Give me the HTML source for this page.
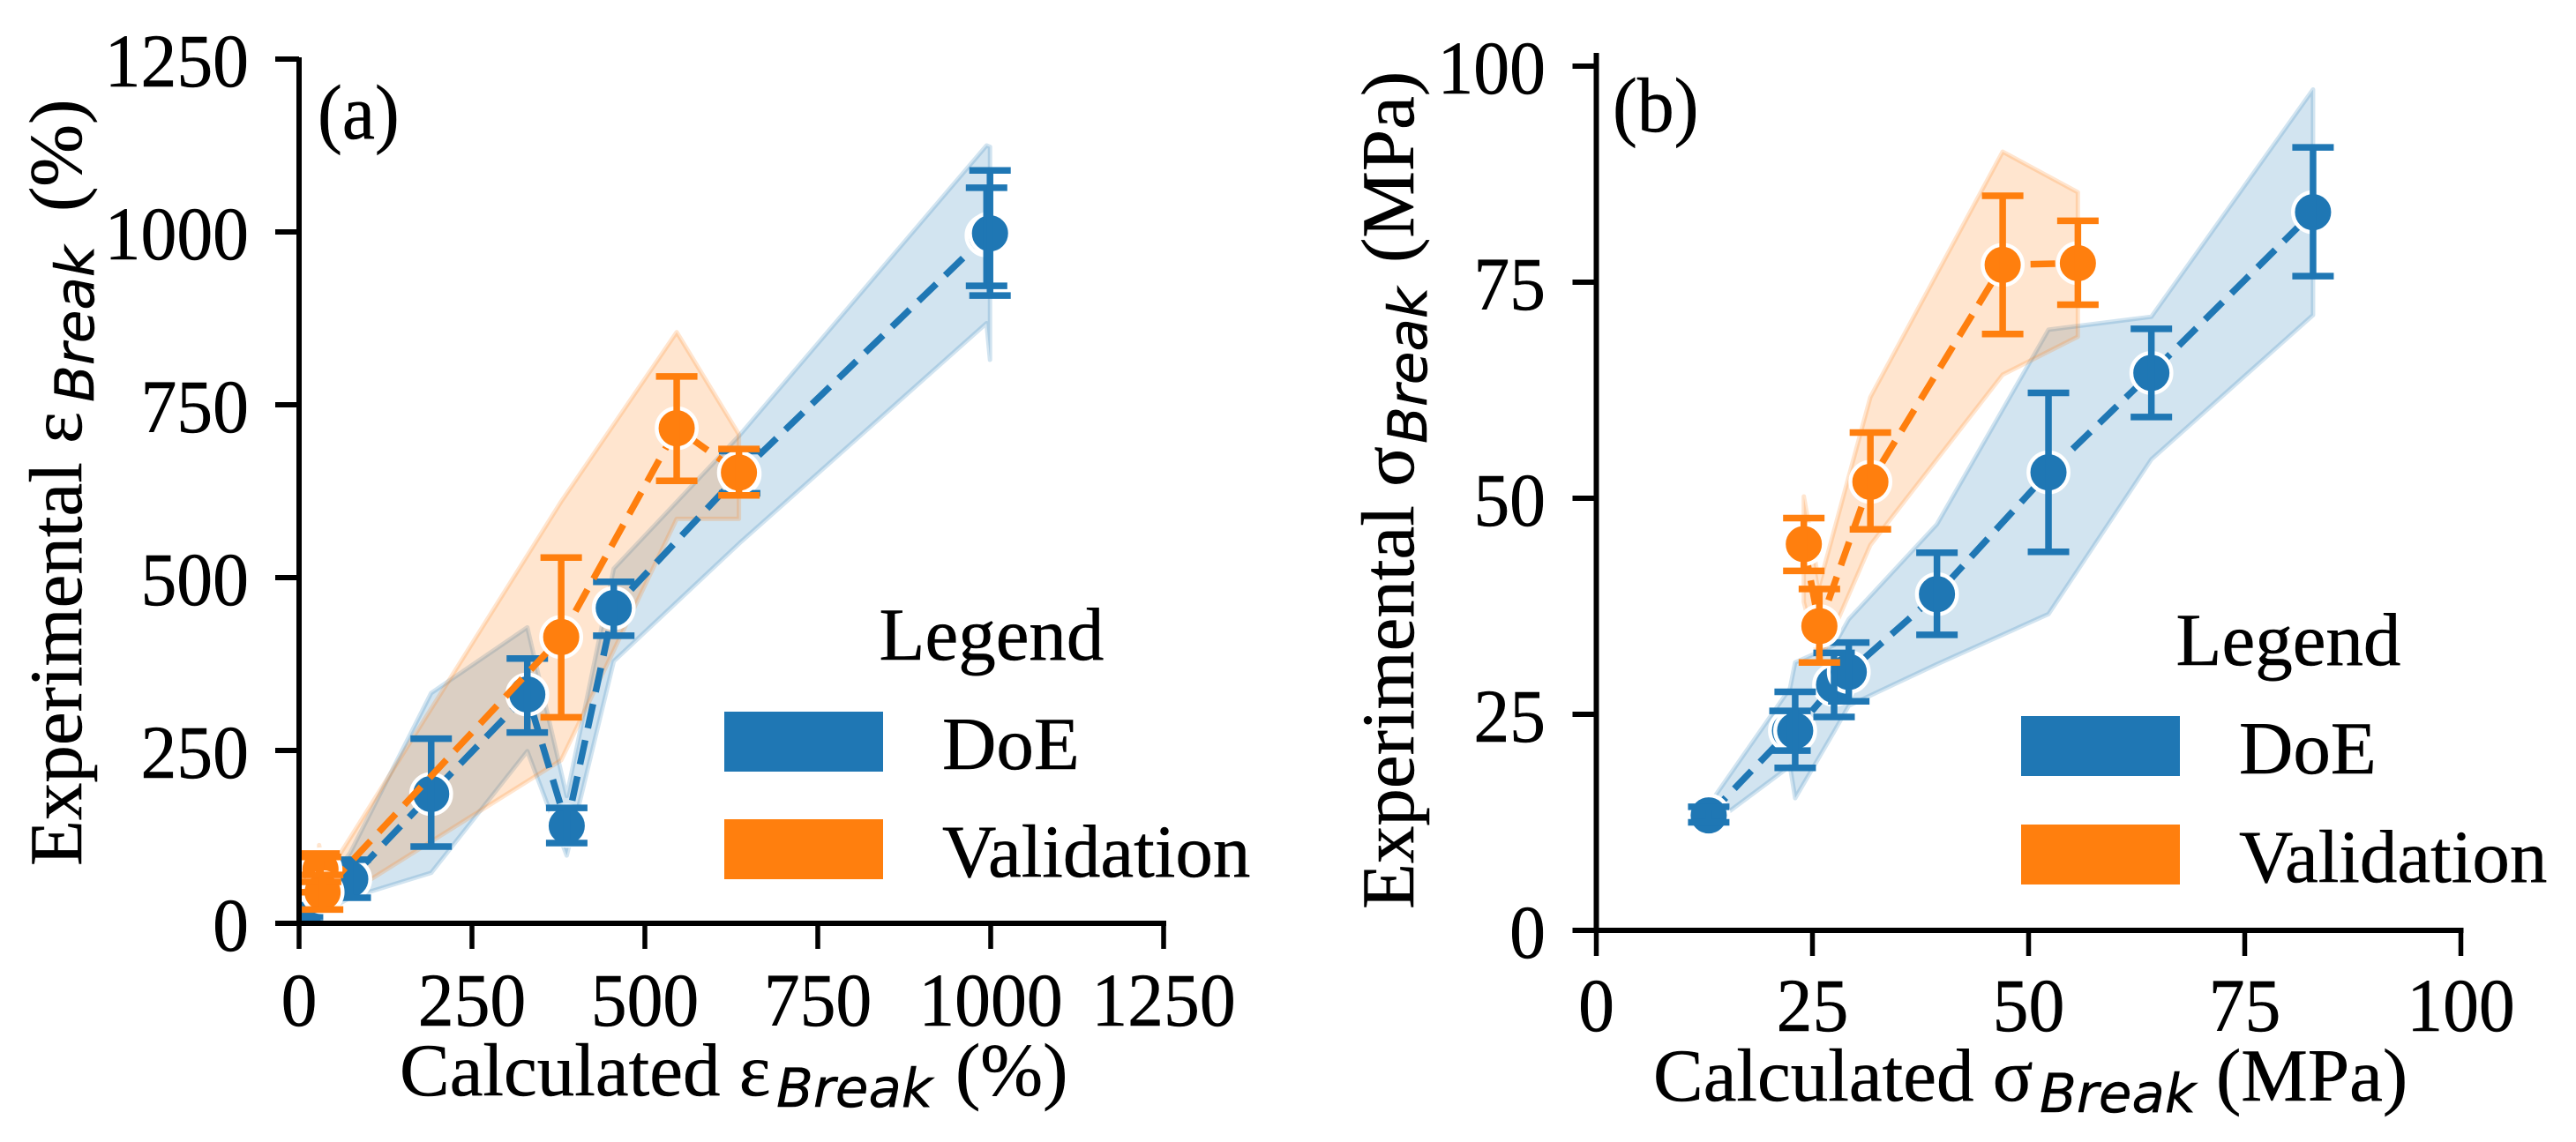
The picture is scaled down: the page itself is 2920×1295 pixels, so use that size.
<!DOCTYPE html>
<html lang="en">
<head>
<meta charset="utf-8">
<title>Calculated vs experimental break properties</title>
<style>
html,body{margin:0;padding:0;background:#fff;}
svg{display:block;}
text{font-family:"Liberation Serif",serif;fill:#000;stroke:#000;stroke-width:.5px;}
.sub{font-family:"DejaVu Sans",sans-serif;font-style:italic;}
</style>
</head>
<body>
<svg id="figure" xmlns="http://www.w3.org/2000/svg" width="2920" height="1295" viewBox="0 0 2920 1295">
  <rect width="2920" height="1295" fill="#fff"/>
  <defs>
    <clipPath id="clip-a"><rect x="339" y="60" width="980" height="987"/></clipPath>
    <clipPath id="clip-b"><rect x="1809" y="60" width="980" height="995"/></clipPath>
  </defs>
  <g id="panel-a"></g>
  <g id="panel-b"></g>

  <text transform="translate(360,157) scale(.95,1)" font-size="88">(a)</text>
  <text transform="translate(1828,149) scale(.95,1)" font-size="88">(b)</text>

  <text y="1242" font-size="85"><tspan x="453">Calculated ε</tspan><tspan class="sub" x="880" y="1255" font-size="61">Break</tspan><tspan x="1083" y="1242">(%)</tspan></text>
  <text transform="translate(92,982) rotate(-90)" y="0" font-size="85"><tspan x="0">Experimental ε</tspan><tspan class="sub" x="526" y="14" font-size="61">Break</tspan><tspan x="742" y="0">(%)</tspan></text>
  <text y="1248" font-size="85"><tspan x="1874">Calculated σ</tspan><tspan class="sub" x="2312" y="1261" font-size="61">Break</tspan><tspan x="2512" y="1248">(MPa)</tspan></text>
  <text transform="translate(1602,1031) rotate(-90)" y="0" font-size="85"><tspan x="0">Experimental σ</tspan><tspan class="sub" x="528" y="15" font-size="61">Break</tspan><tspan x="733" y="0">(MPa)</tspan></text>

  <g>
    <text x="1124" y="748" font-size="85" text-anchor="middle">Legend</text>
    <rect x="821" y="807" width="180" height="68" fill="#1f77b4"/>
    <text x="1068" y="872" font-size="85">DoE</text>
    <rect x="821" y="929" width="180" height="68" fill="#ff7f0e"/>
    <text x="1068" y="994" font-size="85">Validation</text>
  </g>
  <g>
    <text x="2594" y="754" font-size="85" text-anchor="middle">Legend</text>
    <rect x="2291" y="812" width="180" height="68" fill="#1f77b4"/>
    <text x="2538" y="877" font-size="85">DoE</text>
    <rect x="2291" y="935" width="180" height="68" fill="#ff7f0e"/>
    <text x="2538" y="1000" font-size="85">Validation</text>
  </g>
</svg>
<script>
// Panel (a): elongation at break, %
const aTicks = [0, 250, 500, 750, 1000, 1250];
const aDoeX = [5, 74, 191, 330, 387, 455, 637, 994, 999];
const aDoeY = [5, 64, 187, 331, 141, 456, 650, 995, 998];
const aDoeHi = [10, 92, 267, 383, 167, 494, 683, 1064, 1089];
const aDoeLo = [0, 37, 111, 276, 116, 416, 622, 922, 908];
const aDoeBandUp = [8, 102, 333, 428, 184, 513, 706, 1125, 1123];
const aDoeBandLow = [0, 37, 73, 249, 98, 379, 550, 868, 815];
const aValX = [29, 31, 34, 379, 546, 636];
const aValY = [70, 78, 45, 414, 716, 652];
const aValHi = [101, 96, 70, 529, 791, 686];
const aValLo = [45, 60, 20, 298, 640, 619];
const aValBandUp = [113, 100, 60, 610, 855, 707];
const aValBandLow = [30, 40, 20, 236, 585, 585];

// Panel (b): stress at break, MPa
const bTicks = [0, 25, 50, 75, 100];
const bDoeX = [13, 22.4, 23, 27.5, 29.2, 39.4, 52.3, 64.2, 82.9];
const bDoeY = [13.3, 23.1, 23.1, 28.4, 29.9, 38.9, 53, 64.5, 83.1];
const bDoeHi = [14.3, 25.4, 27.6, 32.1, 33.3, 43.7, 62.2, 69.6, 90.6];
const bDoeLo = [12.5, 20.8, 18.8, 24.7, 26.5, 34.2, 43.8, 59.4, 75.7];
const bDoeBandUp = [14.5, 28, 31, 33, 36, 47, 69.5, 71, 97.3];
const bDoeBandLow = [12, 19, 15.3, 23, 26, 30.8, 36.6, 54.5, 71.2];
const bValX = [24, 25.8, 31.7, 47, 55.7];
const bValY = [44.7, 35.2, 51.9, 77, 77.2];
const bValHi = [47.7, 39.5, 57.6, 85, 82.1];
const bValLo = [41.6, 31, 46.4, 69, 72.4];
const bValBandUp = [50.2, 40, 61.7, 90.1, 85.4];
const bValBandLow = [38, 31, 44.6, 64.3, 68.7];

const SVGNS = 'http://www.w3.org/2000/svg';
const BLUE = '#1f77b4';
const ORANGE = '#ff7f0e';
const CAP = 23.5;

function mk(parent, tag, attrs) {
  const el = document.createElementNS(SVGNS, tag);
  for (const k in attrs) el.setAttribute(k, attrs[k]);
  parent.appendChild(el);
  return el;
}

function drawBand(parent, sx, sy, xs, up, low, color, label) {
  const upper = xs.map((v, i) => sx(v) + ',' + sy(up[i]));
  const lower = xs.map((v, i) => sx(v) + ',' + sy(low[i])).reverse();
  const band = mk(parent, 'polygon', {
    points: upper.concat(lower).join(' '),
    fill: color, 'fill-opacity': 0.2,
    stroke: color, 'stroke-opacity': 0.2, 'stroke-width': 5, 'stroke-linejoin': 'round'
  });
  
  
}

function drawSeries(parent, sx, sy, xs, ys, hi, lo, color, label) {
  const g = mk(parent, 'g', {});
  
  

  const line = mk(g, 'polyline', {
    points: xs.map((v, i) => sx(v) + ',' + sy(ys[i])).join(' '),
    fill: 'none', stroke: color, 'stroke-width': 7.5, 'stroke-dasharray': '28 14'
  });
  
  

  xs.forEach((v, i) => {
    const pt = mk(g, 'circle', {
      cx: sx(v), cy: sy(ys[i]), r: 22.7,
      fill: color, stroke: '#fff', 'stroke-width': 4.4
    });
    
    
  });

  xs.forEach((v, i) => {
    const px = sx(v), yHi = sy(hi[i]), yLo = sy(lo[i]);
    const d = 'M' + px + ' ' + yHi + 'V' + yLo +
      'M' + (px - CAP) + ' ' + yHi + 'H' + (px + CAP) +
      'M' + (px - CAP) + ' ' + yLo + 'H' + (px + CAP);
    const err = mk(g, 'path', { d: d, fill: 'none', stroke: color, 'stroke-width': 7.5 });
    
    
  });
}

function drawAxes(parent, sx, sy, xTicks, yTicks, top, yLabelX, yLabelDy, xLabelY, axisName) {
  const x0 = sx(xTicks[0]), x1 = sx(xTicks[xTicks.length - 1]), y0 = sy(yTicks[0]);
  const ax = mk(parent, 'g', {});
  
  

  const left = mk(ax, 'line', { x1: x0, x2: x0, y1: y0 + 3, y2: top, stroke: '#000', 'stroke-width': 6 });
  
  
  const bottom = mk(ax, 'line', { x1: x0 - 3, x2: x1 + 3, y1: y0, y2: y0, stroke: '#000', 'stroke-width': 6 });
  
  

  xTicks.forEach(v => {
    const t = mk(ax, 'line', { x1: sx(v), x2: sx(v), y1: y0, y2: y0 + 29, stroke: '#000', 'stroke-width': 5.5 });
    
    
    const l = mk(ax, 'text', {
      transform: 'translate(' + sx(v) + ',' + xLabelY + ') scale(.95,1)',
      'text-anchor': 'middle', 'font-size': 86
    });
    l.textContent = String(v);
    
    
  });
  yTicks.forEach(v => {
    const t = mk(ax, 'line', { x1: x0 - 27, x2: x0, y1: sy(v), y2: sy(v), stroke: '#000', 'stroke-width': 6 });
    
    
    const l = mk(ax, 'text', {
      transform: 'translate(' + yLabelX + ',' + (sy(v) + yLabelDy) + ') scale(.95,1)',
      'text-anchor': 'end', 'font-size': 86
    });
    l.textContent = String(v);
    
    
  });
}

// Axis functions
const axX = v => 339 + 0.784 * v;
const ayY = v => 1047 - 0.784 * v;
const bxX = v => 1809.5 + 9.8 * v;
const byY = v => 1055 - 9.8 * v;

const panelA = document.getElementById('panel-a');
const panelB = document.getElementById('panel-b');

const plotA = mk(panelA, 'g', { 'clip-path': 'url(#clip-a)' });


drawBand(plotA, axX, ayY, aDoeX, aDoeBandUp, aDoeBandLow, BLUE, 'doe');
drawBand(plotA, axX, ayY, aValX, aValBandUp, aValBandLow, ORANGE, 'validation');
drawSeries(plotA, axX, ayY, aDoeX, aDoeY, aDoeHi, aDoeLo, BLUE, 'doe');
drawSeries(plotA, axX, ayY, aValX, aValY, aValHi, aValLo, ORANGE, 'validation');
drawAxes(panelA, axX, ayY, aTicks, aTicks, 65, 282, 31, 1163, 'panel-a');

const plotB = mk(panelB, 'g', { 'clip-path': 'url(#clip-b)' });


drawBand(plotB, bxX, byY, bDoeX, bDoeBandUp, bDoeBandLow, BLUE, 'doe');
drawBand(plotB, bxX, byY, bValX, bValBandUp, bValBandLow, ORANGE, 'validation');
drawSeries(plotB, bxX, byY, bDoeX, bDoeY, bDoeHi, bDoeLo, BLUE, 'doe');
drawSeries(plotB, bxX, byY, bValX, bValY, bValHi, bValLo, ORANGE, 'validation');
drawAxes(panelB, bxX, byY, bTicks, bTicks, 60, 1752, 31, 1169, 'panel-b');
</script>
</body>
</html>
